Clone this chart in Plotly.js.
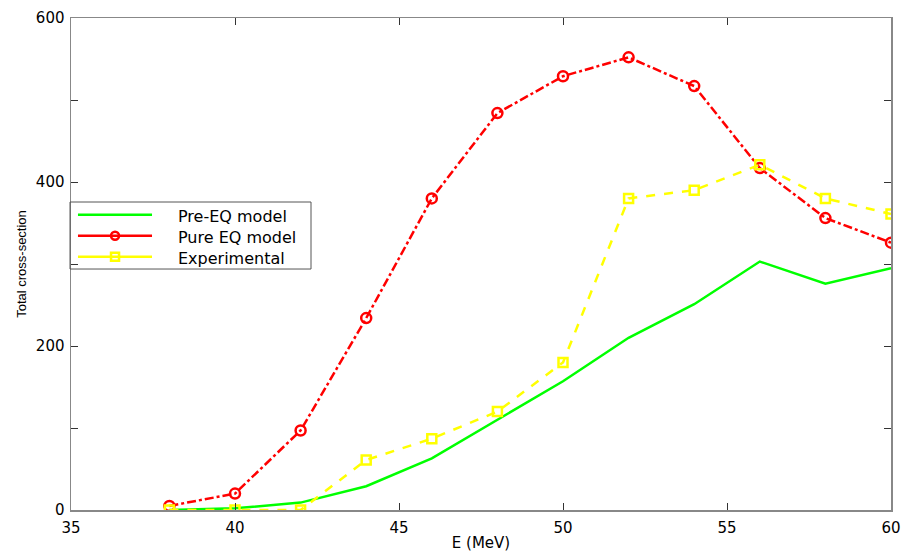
<!DOCTYPE html>
<html>
<head>
<meta charset="utf-8">
<script src="https://cdn.plot.ly/plotly-3.0.1.min.js"></script>
<style>html,body{margin:0;padding:0;background:#fff;}#chart{width:904px;height:552px;}</style>
</head>
<body>
<div id="chart"></div>
<script>
const energy = [38, 40, 42, 44, 46, 48, 50, 52, 54, 56, 58, 60];
const preEQ = [0, 2, 9, 29, 63, 110, 157, 210, 251, 303, 276, 295];
const pureEQ = [5, 20, 97, 234, 380, 484, 529, 552, 517, 417, 356, 326];
const experimental = [0, 0, 0, 61, 87, 120, 180, 380, 390, 421, 380, 361];
const seriesNames = ['Pre-EQ model', 'Pure EQ model', 'Experimental'];
const seriesColors = ['#00ff00', '#ff0000', '#ffff00'];
const yTickVals = [0, 100, 200, 300, 400, 500, 600];
const yTickText = ['0', '', '200', '', '400', '', '600'];
const xTickVals = [35, 40, 45, 50, 55, 60];

const traces = [
  {x: energy, y: preEQ, name: seriesNames[0], mode: 'lines', type: 'scatter',
   line: {color: seriesColors[0], width: 2.5}},
  {x: energy, y: pureEQ, name: seriesNames[1], mode: 'lines+markers', type: 'scatter',
   line: {color: seriesColors[1], width: 2.5, dash: 'dashdot'},
   marker: {symbol: 'circle-open', size: 10, color: seriesColors[1], line: {width: 2.5, color: seriesColors[1]}}},
  {x: energy, y: experimental, name: seriesNames[2], mode: 'lines+markers', type: 'scatter',
   line: {color: seriesColors[2], width: 2.5, dash: 'dash'},
   marker: {symbol: 'square-open', size: 9, color: seriesColors[2], line: {width: 2.5, color: seriesColors[2]}}}
];

const tickFont = {family: 'DejaVu Sans, sans-serif', size: 15, color: '#000'};
const axisCommon = {
  showline: true, linecolor: '#888888', linewidth: 1.5, mirror: 'ticks',
  ticks: 'inside', ticklen: 7, tickcolor: '#333333', tickwidth: 1,
  showgrid: false, zeroline: false, tickfont: tickFont
};

// custom legend (paper coordinates)
const legendBox = {x0: -0.0012, x1: 0.2927, y0: 0.4898, y1: 0.626};
const legendRows = [0.6002, 0.5575, 0.5148];
const legLineX = [0.0085, 0.0988];
const legMarkX = 0.0537;
const legTextX = 0.1275;

const shapes = [
  {type: 'rect', xref: 'paper', yref: 'paper', x0: legendBox.x0, x1: legendBox.x1,
   y0: legendBox.y0, y1: legendBox.y1, line: {color: '#555555', width: 1}, fillcolor: 'rgba(0,0,0,0)'}
];
const annotations = [];
seriesNames.forEach((name, i) => {
  shapes.push({type: 'line', xref: 'paper', yref: 'paper', x0: legLineX[0], x1: legLineX[1],
    y0: legendRows[i], y1: legendRows[i], line: {color: seriesColors[i], width: 2.5}});
  if (i === 1) {
    shapes.push({type: 'circle', xref: 'paper', yref: 'paper', xsizemode: 'pixel', ysizemode: 'pixel',
      xanchor: legMarkX, yanchor: legendRows[i], x0: -4, x1: 4, y0: -4, y1: 4,
      line: {color: seriesColors[i], width: 2.5}, fillcolor: 'rgba(0,0,0,0)'});
  }
  if (i === 2) {
    shapes.push({type: 'rect', xref: 'paper', yref: 'paper', xsizemode: 'pixel', ysizemode: 'pixel',
      xanchor: legMarkX, yanchor: legendRows[i], x0: -4, x1: 4, y0: -4, y1: 4,
      line: {color: seriesColors[i], width: 2.5}, fillcolor: 'rgba(0,0,0,0)'});
  }
  annotations.push({xref: 'paper', yref: 'paper', x: legTextX, y: legendRows[i] - 0.004,
    xanchor: 'left', yanchor: 'middle', showarrow: false, text: name,
    font: {family: 'DejaVu Sans, sans-serif', size: 16, color: '#000'}});
});

const layout = {
  width: 904, height: 552,
  margin: {l: 71, r: 13, t: 18, b: 42},
  paper_bgcolor: '#fff', plot_bgcolor: '#fff',
  font: {family: 'DejaVu Sans, sans-serif', color: '#000'},
  showlegend: false,
  xaxis: Object.assign({}, axisCommon, {
    range: [35, 60], tickvals: xTickVals, ticklabelstandoff: 3,
    title: {text: 'E (MeV)', font: {family: 'DejaVu Sans, sans-serif', size: 15}, standoff: 2}
  }),
  yaxis: Object.assign({}, axisCommon, {
    range: [0, 600], tickvals: yTickVals, ticktext: yTickText, ticklabelstandoff: 2,
    title: {text: 'Total cross-section', font: {family: 'Liberation Sans, Arial, sans-serif', size: 13}, standoff: 6}
  }),
  shapes: shapes,
  annotations: annotations
};

Plotly.newPlot('chart', traces, layout, {displayModeBar: false, staticPlot: true});
</script>
</body>
</html>
